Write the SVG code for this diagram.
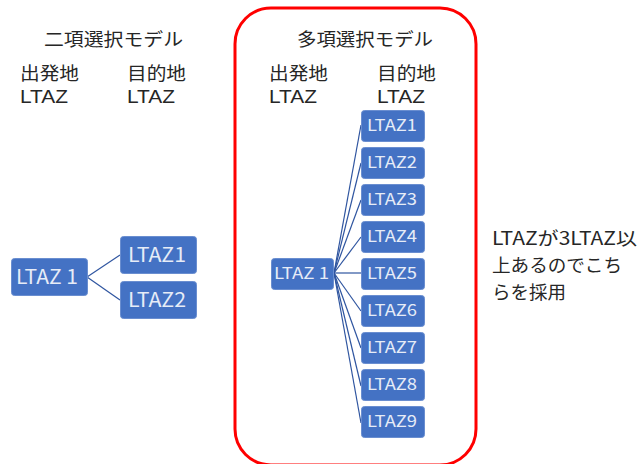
<svg xmlns="http://www.w3.org/2000/svg" width="642" height="464" viewBox="0 0 642 464">
<style>
.t{font-family:"Noto Sans CJK JP","Noto Sans",sans-serif;fill:#262626;font-size:18px}
.lat{font-family:"Liberation Sans","Noto Sans CJK JP",sans-serif;fill:#262626;font-size:19px}
.box rect{fill:#4472C4;stroke:#6A8ED0;stroke-width:1}
.box text{font-family:"Noto Sans CJK JP","Noto Sans",sans-serif;fill:#E6ECF7}
.big text{font-size:20px}
.sm text{font-size:16.5px}
.conn line{stroke:#2F55A0;stroke-width:1.2}
</style>
<rect width="642" height="464" fill="#fff"/>
<rect x="235" y="8" width="241" height="457" rx="36" ry="36" fill="none" stroke="#FF0000" stroke-width="3"/>
<g id="left-labels">
<text class="t" x="44" y="46" textLength="139" lengthAdjust="spacingAndGlyphs">二項選択モデル</text>
<text class="t" x="20" y="80" textLength="59" lengthAdjust="spacingAndGlyphs">出発地</text>
<text class="t" x="127" y="80" textLength="59" lengthAdjust="spacingAndGlyphs">目的地</text>
<text class="lat" x="20" y="103" textLength="48" lengthAdjust="spacingAndGlyphs">LTAZ</text>
<text class="lat" x="127" y="103" textLength="48" lengthAdjust="spacingAndGlyphs">LTAZ</text>
</g>
<g id="right-labels">
<text class="t" x="297" y="46" textLength="136" lengthAdjust="spacingAndGlyphs">多項選択モデル</text>
<text class="t" x="269" y="80" textLength="59" lengthAdjust="spacingAndGlyphs">出発地</text>
<text class="t" x="377" y="80" textLength="59" lengthAdjust="spacingAndGlyphs">目的地</text>
<text class="lat" x="269" y="103" textLength="48" lengthAdjust="spacingAndGlyphs">LTAZ</text>
<text class="lat" x="377" y="103" textLength="48" lengthAdjust="spacingAndGlyphs">LTAZ</text>
</g>
<g id="note">
<text class="t" x="492" y="245" textLength="145" lengthAdjust="spacingAndGlyphs">LTAZが3LTAZ以</text>
<text class="t" x="492" y="272" textLength="130" lengthAdjust="spacingAndGlyphs">上あるのでこち</text>
<text class="t" x="492" y="299" textLength="74" lengthAdjust="spacingAndGlyphs">らを採用</text>
</g>
<g id="connectors" class="conn">
<line x1="87" y1="277" x2="120" y2="255"/>
<line x1="87" y1="277" x2="120" y2="300"/>
<line x1="334" y1="273" x2="361" y2="125"/>
<line x1="334" y1="273" x2="361" y2="163"/>
<line x1="334" y1="273" x2="361" y2="200"/>
<line x1="334" y1="273" x2="361" y2="237"/>
<line x1="334" y1="273" x2="361" y2="273"/>
<line x1="334" y1="273" x2="361" y2="311"/>
<line x1="334" y1="273" x2="361" y2="348"/>
<line x1="334" y1="273" x2="361" y2="386"/>
<line x1="334" y1="273" x2="361" y2="423"/>
</g>
<g id="L-src" class="box big"><rect x="11.5" y="258.5" width="76" height="37" rx="3"/><text x="16" y="284" textLength="62" lengthAdjust="spacingAndGlyphs">LTAZ 1</text></g>
<g id="L-dst1" class="box big"><rect x="120.5" y="236.5" width="76" height="37" rx="3"/><text x="128" y="262" textLength="58" lengthAdjust="spacingAndGlyphs">LTAZ1</text></g>
<g id="L-dst2" class="box big"><rect x="120.5" y="281.5" width="76" height="37" rx="3"/><text x="128" y="307" textLength="58" lengthAdjust="spacingAndGlyphs">LTAZ2</text></g>
<g id="R-src" class="box sm"><rect x="271.5" y="258.5" width="62" height="31" rx="3"/><text x="274" y="279" textLength="55" lengthAdjust="spacingAndGlyphs">LTAZ 1</text></g>
<g id="R-dst1" class="box sm"><rect x="361.5" y="110.5" width="63" height="31" rx="3"/><text x="367" y="131" textLength="50" lengthAdjust="spacingAndGlyphs">LTAZ1</text></g>
<g id="R-dst2" class="box sm"><rect x="361.5" y="147.5" width="63" height="31" rx="3"/><text x="367" y="168" textLength="50" lengthAdjust="spacingAndGlyphs">LTAZ2</text></g>
<g id="R-dst3" class="box sm"><rect x="361.5" y="184.5" width="63" height="31" rx="3"/><text x="367" y="205" textLength="50" lengthAdjust="spacingAndGlyphs">LTAZ3</text></g>
<g id="R-dst4" class="box sm"><rect x="361.5" y="221.5" width="63" height="31" rx="3"/><text x="367" y="242" textLength="50" lengthAdjust="spacingAndGlyphs">LTAZ4</text></g>
<g id="R-dst5" class="box sm"><rect x="361.5" y="258.5" width="63" height="31" rx="3"/><text x="367" y="279" textLength="50" lengthAdjust="spacingAndGlyphs">LTAZ5</text></g>
<g id="R-dst6" class="box sm"><rect x="361.5" y="295.5" width="63" height="31" rx="3"/><text x="367" y="316" textLength="50" lengthAdjust="spacingAndGlyphs">LTAZ6</text></g>
<g id="R-dst7" class="box sm"><rect x="361.5" y="332.5" width="63" height="31" rx="3"/><text x="367" y="353" textLength="50" lengthAdjust="spacingAndGlyphs">LTAZ7</text></g>
<g id="R-dst8" class="box sm"><rect x="361.5" y="369.5" width="63" height="31" rx="3"/><text x="367" y="390" textLength="50" lengthAdjust="spacingAndGlyphs">LTAZ8</text></g>
<g id="R-dst9" class="box sm"><rect x="361.5" y="406.5" width="63" height="31" rx="3"/><text x="367" y="427" textLength="50" lengthAdjust="spacingAndGlyphs">LTAZ9</text></g>
</svg>
